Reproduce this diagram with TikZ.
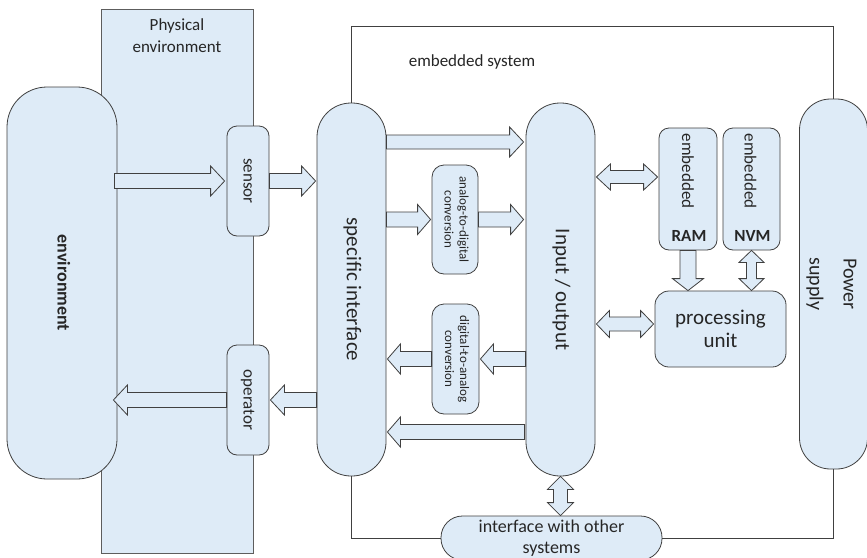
\documentclass[tikz,border=0pt]{standalone}
\usepackage{fontspec}
\setmainfont{Carlito}
\usetikzlibrary{calc}
\definecolor{boxfill}{HTML}{DEEBF7}
\definecolor{edge}{HTML}{404040}
\definecolor{ink}{HTML}{262626}

% text set top-to-bottom, first line on the right
\newcommand\vtext[1]{\rotatebox{-90}{\begin{tabular}{@{}c@{}}#1\end{tabular}}}

% block arrows: shaft half-width, head half-width, head length, tail, tip
\newcommand\harrow[5]{%
  \draw[barrow] let \p1=#4, \p2=#5, \n1={ifthenelse(\x2>\x1,#3,-#3)} in
    ({\x1},{\y1+#1pt}) -- ({\x2-(\n1)*1pt},{\y1+#1pt}) -- ({\x2-(\n1)*1pt},{\y1+#2pt}) -- ({\x2},{\y1})
    -- ({\x2-(\n1)*1pt},{\y1-#2pt}) -- ({\x2-(\n1)*1pt},{\y1-#1pt}) -- ({\x1},{\y1-#1pt}) -- cycle;}
\newcommand\hdarrow[5]{%
  \draw[barrow] let \p1=#4, \p2=#5, \n1={ifthenelse(\x2>\x1,#3,-#3)} in
    ({\x1},{\y1}) -- ({\x1+(\n1)*1pt},{\y1+#2pt}) -- ({\x1+(\n1)*1pt},{\y1+#1pt})
    -- ({\x2-(\n1)*1pt},{\y1+#1pt}) -- ({\x2-(\n1)*1pt},{\y1+#2pt}) -- ({\x2},{\y1})
    -- ({\x2-(\n1)*1pt},{\y1-#2pt}) -- ({\x2-(\n1)*1pt},{\y1-#1pt})
    -- ({\x1+(\n1)*1pt},{\y1-#1pt}) -- ({\x1+(\n1)*1pt},{\y1-#2pt}) -- cycle;}
\newcommand\varrow[5]{%
  \draw[barrow] let \p1=#4, \p2=#5, \n1={ifthenelse(\y2>\y1,#3,-#3)} in
    ({\x1+#1pt},{\y1}) -- ({\x1+#1pt},{\y2-(\n1)*1pt}) -- ({\x1+#2pt},{\y2-(\n1)*1pt}) -- ({\x1},{\y2})
    -- ({\x1-#2pt},{\y2-(\n1)*1pt}) -- ({\x1-#1pt},{\y2-(\n1)*1pt}) -- ({\x1-#1pt},{\y1}) -- cycle;}
\newcommand\vdarrow[5]{%
  \draw[barrow] let \p1=#4, \p2=#5, \n1={ifthenelse(\y2>\y1,#3,-#3)} in
    ({\x1},{\y1}) -- ({\x1+#2pt},{\y1+(\n1)*1pt}) -- ({\x1+#1pt},{\y1+(\n1)*1pt})
    -- ({\x1+#1pt},{\y2-(\n1)*1pt}) -- ({\x1+#2pt},{\y2-(\n1)*1pt}) -- ({\x1},{\y2})
    -- ({\x1-#2pt},{\y2-(\n1)*1pt}) -- ({\x1-#1pt},{\y2-(\n1)*1pt})
    -- ({\x1-#1pt},{\y1+(\n1)*1pt}) -- ({\x1-#2pt},{\y1+(\n1)*1pt}) -- cycle;}

\begin{document}
\begin{tikzpicture}[x=1pt,y=-1pt,
  box/.style={draw=edge, fill=boxfill, line width=0.8pt, inner sep=0pt, text=ink},
  barrow/.style={draw=edge, fill=boxfill, line width=0.8pt, line join=miter},
  frame/.style={draw=edge, line width=0.8pt},
  lbl/.style={text=ink, inner sep=0pt},
  f13/.style={font=\fontsize{13}{15}\selectfont},
  f17/.style={font=\fontsize{17}{22}\selectfont},
  f18/.style={font=\fontsize{18}{21}\selectfont},
  f21/.style={font=\fontsize{21}{23}\selectfont}]
\useasboundingbox (0,0) rectangle (867,557);
\fill[white] (0,0) rectangle (867,557);

% physical environment band
\draw[draw=edge!85, fill=boxfill, line width=0.8pt] (101,9) rectangle (253,553);
\node[lbl, f17, align=center] (phys) at (177,36) {Physical\\environment};

% outside world
\node[box, rounded corners=40pt, minimum width=110pt, minimum height=392pt,
      font=\fontsize{18}{22}\selectfont\bfseries] (env) at (62,283) {\vtext{environment}};
\node[box, rounded corners=10pt, minimum width=42pt, minimum height=110pt, f17] (sen) at (248,181) {\vtext{sensor}};
\node[box, rounded corners=10pt, minimum width=42pt, minimum height=110pt, f17] (op) at (248,400) {\vtext{operator}};

% embedded system blocks
\node[lbl, f17] (es) at (472,62) {embedded system};
\node[box, rounded corners=34pt, minimum width=69pt, minimum height=373pt, f21] (spec) at (351.5,289.5) {\vtext{specific interface}};
\node[box, rounded corners=34pt, minimum width=69pt, minimum height=373pt, f21] (io) at (560.5,289.5) {\vtext{Input / output}};
\node[box, rounded corners=12pt, minimum width=46pt, minimum height=109pt, f13] (adc) at (455,219.5) {\vtext{analog-to-digital\\conversion}};
\node[box, rounded corners=12pt, minimum width=47pt, minimum height=110pt, f13] (dac) at (455.5,359) {\vtext{digital-to-analog\\conversion}};
\node[box, rounded corners=10pt, minimum width=58pt, minimum height=122pt] (ram) at (688,189) {};
\node[box, rounded corners=10pt, minimum width=57pt, minimum height=122pt] (nvm) at (751.5,189) {};
\node[lbl, f17] (ramtop) at ($(ram.north)+(0,43.5)$) {\rotatebox{-90}{embedded}};
\node[lbl, font=\fontsize{17}{22}\selectfont\bfseries] (ramname) at ($(ram.south)+(1,-14)$) {RAM};
\node[lbl, f17] (nvmtop) at ($(nvm.north)+(-1,43.5)$) {\rotatebox{-90}{embedded}};
\node[lbl, font=\fontsize{17}{22}\selectfont\bfseries] (nvmname) at ($(nvm.south)+(1,-14)$) {NVM};
\node[box, rounded corners=14pt, minimum width=131pt, minimum height=76pt, f21, align=center] (pu) at (720.5,329) {processing\\unit};
\node[box, rounded corners=31pt, minimum width=63pt, minimum height=370pt,
      font=\fontsize{20}{34}\selectfont] (power) at (833.5,284) {\vtext{Power\\supply}};
\node[box, rounded corners=21.5pt, minimum width=221pt, minimum height=44pt, f18, align=center] (ifc) at (551.5,538) {interface with other\\systems};

% boundary of the embedded system
\draw[frame] (spec.north) -- ++(0,-76) -| (power.north);
\draw[frame] (spec.south) |- (ifc.west);
\draw[frame] (ifc.east) -| (power.south);

% data paths
\harrow{7.5}{15}{14}{($(env.east |- sen.west)+(-3,0)$)}{($(sen.west)+(-2,0)$)}
\harrow{7.5}{15}{14}{(sen.east)}{($(spec.west |- sen.east)+(-1,0)$)}
\harrow{7}{15}{14}{($(spec.east)+(0,-147.5)$)}{($(io.west)+(-2,-147.5)$)}
\harrow{7.5}{15}{13}{(spec.east |- adc.west)}{($(adc.west)+(-1,0)$)}
\harrow{7.5}{15}{13}{(adc.east)}{($(io.west |- adc.east)+(-2,0)$)}
\harrow{7.5}{15}{13}{(io.west |- dac.east)}{($(dac.east)+(1,0)$)}
\harrow{7.5}{15}{13}{(dac.west)}{($(spec.east |- dac.west)+(1,0)$)}
\harrow{7.5}{15}{13}{($(io.west)+(-1,142.5)$)}{($(spec.east)+(1,142.5)$)}
\harrow{7.5}{15}{14}{(spec.west |- op.east)}{($(op.east)+(1,0)$)}
\harrow{7.5}{15}{14}{(op.west)}{($(env.east |- op.west)+(-4,0)$)}
\hdarrow{6.5}{13}{14}{($(io.east)+(1,-112.5)$)}{($(ram.west)+(-1,-12)$)}
\hdarrow{7}{13.5}{13}{($(io.east |- pu.west)+(1,-5)$)}{($(pu.west)+(-1,-5)$)}
\varrow{8}{15.5}{12}{(ram.south)}{(ram.south |- pu.north)}
\vdarrow{5}{12.5}{12}{(nvm.south)}{(nvm.south |- pu.north)}
\vdarrow{7}{13}{13}{(io.south)}{(io.south |- ifc.north)}
\end{tikzpicture}
\end{document}
